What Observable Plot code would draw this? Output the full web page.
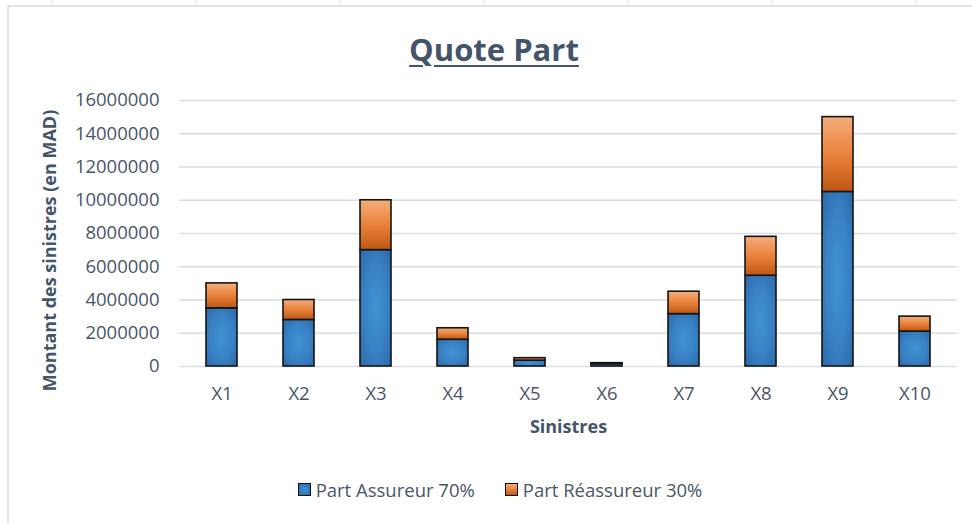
<!DOCTYPE html>
<html lang="fr">
<head>
<meta charset="utf-8">
<script src="https://cdn.jsdelivr.net/npm/d3@7"></script>
<script src="https://cdn.jsdelivr.net/npm/@observablehq/plot@0.6"></script>
<style>
  html, body { margin: 0; padding: 0; background: #fff; }
  #page {
    position: relative; width: 972px; height: 523px; overflow: hidden;
    font-family: "Open Sans", "Noto Sans", sans-serif; color: #44546A;
  }
  /* faint sheet cell lines above the chart */
  #cells {
    position: absolute; left: 0; top: 0; width: 972px; height: 6px;
    background: repeating-linear-gradient(to right, transparent 0 51px, #e3e6ea 51px 52px, transparent 52px 144px);
    background-position: 0 0;
  }
  #frame {
    position: absolute; left: 7px; top: 5px; width: 980px; height: 530px;
    border-left: 2px solid #dfe4ea; border-top: 2px solid #dfe4ea;
  }
  #title {
    position: absolute; left: 0; width: 988px; top: 28px; text-align: center;
    font-size: 31px; font-weight: 700; text-decoration: underline;
    text-decoration-thickness: 2px; text-underline-offset: 4px; color: #44546A;
  }
  #chart { position: absolute; left: 0; top: 85px; }
  #legend {
    position: absolute; left: 0; width: 1000px; top: 477px;
    display: flex; justify-content: center; gap: 30px; font-size: 18.5px; color: #4a5568;
  }
  #legend .item { display: flex; align-items: center; gap: 5px; }
  #legend .sw { width: 11px; height: 11px; border: 1.5px solid #111; }
</style>
</head>
<body>
<div id="page">
  <div id="cells"></div>
  <div id="frame"></div>
  <div id="title">Quote Part</div>
  <div id="chart"></div>
  <div id="legend"></div>
</div>
<script>
// Claims (sinistres) split between insurer and reinsurer shares
const categories = ["X1", "X2", "X3", "X4", "X5", "X6", "X7", "X8", "X9", "X10"];
const seriesNames = ["Part Assureur 70%", "Part Réassureur 30%"];
const assureur = [3500000, 2800000, 7000000, 1610000, 350000, 140000, 3150000, 5460000, 10500000, 2100000];
const reassureur = [1500000, 1200000, 3000000, 690000, 150000, 60000, 1350000, 2340000, 4500000, 900000];
const yTicks = [0, 2000000, 4000000, 6000000, 8000000, 10000000, 12000000, 14000000, 16000000];
const yTitle = "Montant des sinistres (en MAD)";
const xTitle = "Sinistres";

const gradientIds = ["gradAssureur", "gradReassureur"];
const swatchCss = [
  "radial-gradient(circle, #4192d5, #2c6aa8)",
  "linear-gradient(#f4ae7c, #e9833b 50%, #be5714)"
];

const rows = categories.flatMap((c, i) => [
  {sinistre: c, part: seriesNames[0], montant: assureur[i]},
  {sinistre: c, part: seriesNames[1], montant: reassureur[i]}
]);

const textColor = "#4a5568";

const chart = Plot.plot({
  width: 972,
  height: 360,
  marginTop: 15,
  marginBottom: 79,
  marginLeft: 179,
  marginRight: 15,
  style: {fontFamily: "'Open Sans', 'Noto Sans', sans-serif", fontSize: "18.5px", color: textColor, background: "transparent", overflow: "visible"},
  x: {domain: categories, paddingInner: 0.6, paddingOuter: 0.3, label: null},
  y: {domain: [0, 16000000], label: null},
  color: {domain: seriesNames, range: gradientIds.map(id => `url(#${id})`)},
  marks: [
    Plot.gridY(yTicks, {stroke: "#d9dde3", strokeOpacity: 1, strokeWidth: 1.5}),
    Plot.axisY(yTicks, {tickSize: 0, tickPadding: 20, tickFormat: d3.format("d"), label: null}),
    Plot.axisX({tickSize: 0, tickPadding: 20, label: null}),
    Plot.barY(rows, Plot.stackY({x: "sinistre", y: "montant", fill: "part", order: seriesNames, stroke: "#141414", strokeWidth: 1.6})),
    Plot.text([yTitle], {text: d => d, frameAnchor: "left", textAnchor: "middle", dx: -129, dy: 17, rotate: -90, fontWeight: "bold", fontSize: 18, fill: "#44546A"}),
    Plot.text([xTitle], {text: d => d, frameAnchor: "bottom", dy: 66, fontWeight: "bold", fontSize: 18, fill: "#44546A"})
  ]
});

// gradient fills used by the two series
const ns = "http://www.w3.org/2000/svg";
const defs = document.createElementNS(ns, "defs");
defs.innerHTML = `
  <radialGradient id="${gradientIds[0]}" cx="50%" cy="50%" r="70%">
    <stop offset="0" stop-color="#4192d5"/>
    <stop offset="0.55" stop-color="#3881c4"/>
    <stop offset="1" stop-color="#2b68a6"/>
  </radialGradient>
  <linearGradient id="${gradientIds[1]}" x1="0" y1="0" x2="0" y2="1">
    <stop offset="0" stop-color="#f4ae7c"/>
    <stop offset="0.5" stop-color="#e9833b"/>
    <stop offset="1" stop-color="#be5714"/>
  </linearGradient>`;
chart.insertBefore(defs, chart.firstChild);
document.getElementById("chart").appendChild(chart);

// legend
const legend = document.getElementById("legend");
seriesNames.forEach((name, i) => {
  const item = document.createElement("div");
  item.className = "item";
  const sw = document.createElement("span");
  sw.className = "sw";
  sw.style.background = swatchCss[i];
  const label = document.createElement("span");
  label.textContent = name;
  item.append(sw, label);
  legend.appendChild(item);
});
</script>
</body>
</html>
